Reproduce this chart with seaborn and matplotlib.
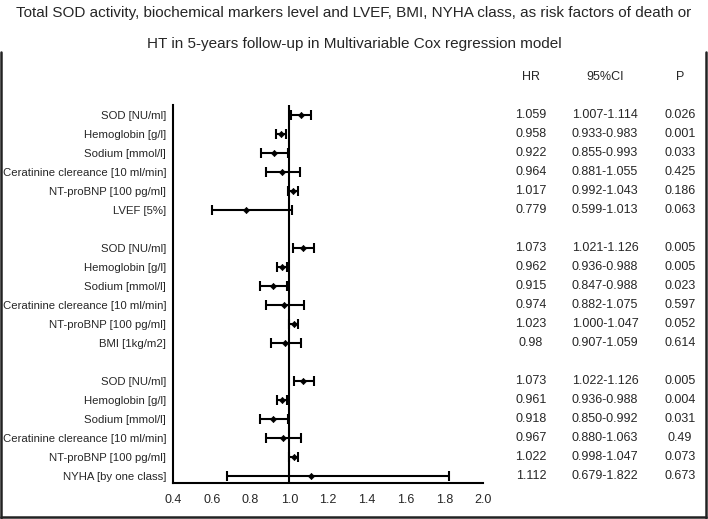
import matplotlib
matplotlib.use('Agg')
import matplotlib.pyplot as plt
from matplotlib.lines import Line2D
import matplotlib.transforms as mtransforms
import pandas as pd
import seaborn as sns

# three Cox models, 6 variables each (last variable differs)
labels_common = ['SOD [NU/ml]', 'Hemoglobin [g/l]', 'Sodium [mmol/l]',
                 'Ceratinine clereance [10 ml/min]', 'NT-proBNP [100 pg/ml]']
extra_vars = ['LVEF [5%]', 'BMI [1kg/m2]', 'NYHA [by one class]']

hr_1 = [1.059, 0.958, 0.922, 0.964, 1.017, 0.779]
lo_1 = [1.007, 0.933, 0.855, 0.881, 0.992, 0.599]
hi_1 = [1.114, 0.983, 0.993, 1.055, 1.043, 1.013]
p_1 = [0.026, 0.001, 0.033, 0.425, 0.186, 0.063]

hr_2 = [1.073, 0.962, 0.915, 0.974, 1.023, 0.98]
lo_2 = [1.021, 0.936, 0.847, 0.882, 1.000, 0.907]
hi_2 = [1.126, 0.988, 0.988, 1.075, 1.047, 1.059]
p_2 = [0.005, 0.005, 0.023, 0.597, 0.052, 0.614]

hr_3 = [1.073, 0.961, 0.918, 0.967, 1.022, 1.112]
lo_3 = [1.022, 0.936, 0.850, 0.880, 0.998, 0.679]
hi_3 = [1.126, 0.988, 0.992, 1.063, 1.047, 1.822]
p_3 = [0.005, 0.004, 0.031, 0.49, 0.073, 0.673]

x_ticks = [0.4, 0.6, 0.8, 1.0, 1.2, 1.4, 1.6, 1.8, 2.0]

#build one table, a blank row between models
rows = []
pos = 0
for extra, hr, lo, hi, p in zip(extra_vars, [hr_1, hr_2, hr_3], [lo_1, lo_2, lo_3],
                                [hi_1, hi_2, hi_3], [p_1, p_2, p_3]):
    for lab, h, l, u, pv in zip(labels_common + [extra], hr, lo, hi, p):
        rows.append({'label': lab, 'hr': h, 'lo': l, 'hi': u, 'p': pv, 'pos': pos})
        pos += 1
    pos += 1
df = pd.DataFrame(rows)

sns.set_style('white')
plt.rcParams['font.family'] = ['Liberation Sans', 'DejaVu Sans']

fig = plt.figure(figsize=(7.08, 5.19), dpi=100)
ax = fig.add_axes([0.2444, 0.0694, 0.4378, 0.7283])

ax.errorbar(df['hr'], df['pos'], xerr=[df['hr'] - df['lo'], df['hi'] - df['hr']],
            fmt='none', ecolor='black', elinewidth=1.5, capsize=3.5, capthick=1.5)
sns.scatterplot(data=df, x='hr', y='pos', ax=ax, color='black', marker='D',
                s=10, edgecolor='black', linewidth=0.5, zorder=3)
ax.axvline(1.0, color='black', lw=1.5, zorder=2)

ax.set_xlim(0.4, 2.0)
ax.set_ylim(19.37, -0.53)
ax.set_xticks(x_ticks)
ax.set_xticklabels([f'{t:.1f}' for t in x_ticks], fontsize=9)
ax.set_yticks([k - 0.5 for k in range(20)])
ax.set_yticklabels([])
ax.set_yticks(df['pos'], minor=True)
ax.set_yticklabels(df['label'], minor=True, fontsize=8.2)
ax.tick_params(axis='y', which='minor', length=0, pad=5)
ax.tick_params(axis='both', which='major', direction='in', length=4, width=1.2, color='black')
ax.tick_params(axis='x', pad=8)
ax.set_xlabel('')
ax.set_ylabel('')
sns.despine(ax=ax)
for s in ['left', 'bottom']:
    ax.spines[s].set_color('black')
    ax.spines[s].set_linewidth(1.5)

#right side table, x in figure pixels, y on the row scale
bt = mtransforms.blended_transform_factory(fig.transFigure, ax.transData)
for x_px, head in zip([531, 605, 680], ['HR', '95%CI', 'P']):
    ax.text(x_px / 708, -2, head, transform=bt, ha='center', va='center', fontsize=9, clip_on=False)
for _, r in df.iterrows():
    ax.text(531 / 708, r['pos'], str(r['hr']), transform=bt, ha='center', va='center', fontsize=9)
    ax.text(605 / 708, r['pos'], f"{r['lo']:.3f}-{r['hi']:.3f}", transform=bt, ha='center', va='center', fontsize=9)
    ax.text(680 / 708, r['pos'], str(r['p']), transform=bt, ha='center', va='center', fontsize=9)

fig.text(0.5, 1 - 13 / 519, 'Total SOD activity, biochemical markers level and LVEF, BMI, NYHA class, as risk factors of death or',
         ha='center', va='center', fontsize=11)
fig.text(0.5, 1 - 44 / 519, 'HT in 5-years follow-up in Multivariable Cox regression model',
         ha='center', va='center', fontsize=11)

#frame around the plot area
fc = '#222222'
fig.add_artist(Line2D([0.002, 0.002], [0.002, 0.9], transform=fig.transFigure, color=fc, lw=1.8))
fig.add_artist(Line2D([0.997, 0.997], [0.002, 0.9], transform=fig.transFigure, color=fc, lw=1.8))
fig.add_artist(Line2D([0.002, 0.997], [0.003, 0.003], transform=fig.transFigure, color=fc, lw=1.8))

fig.savefig('out.png', dpi=100)
